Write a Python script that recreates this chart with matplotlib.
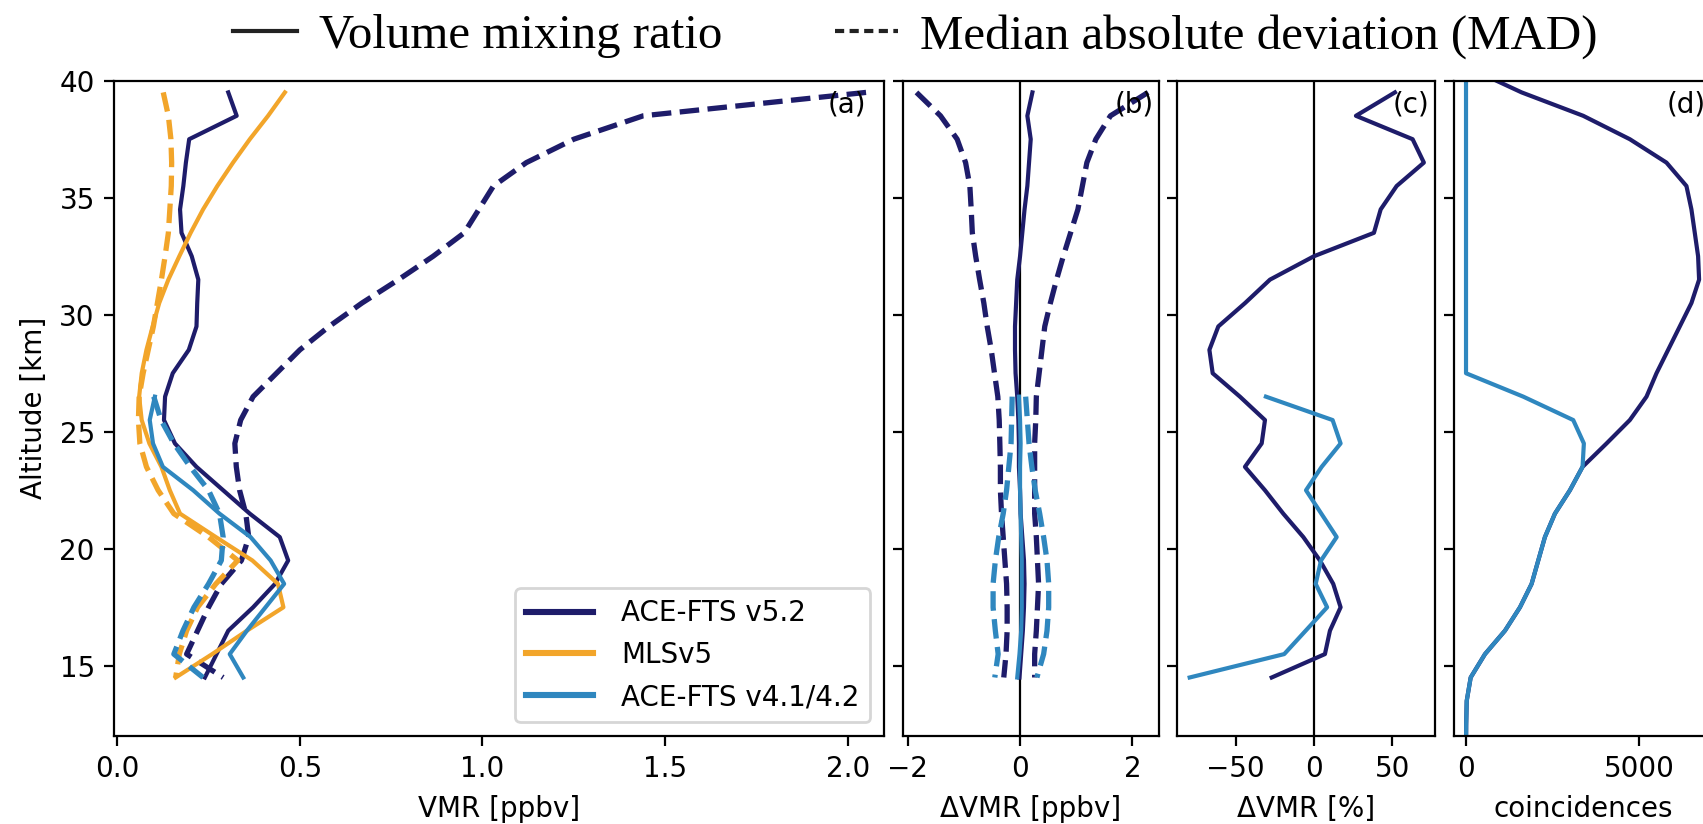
import numpy as np
import matplotlib
matplotlib.use("Agg")
import matplotlib.pyplot as plt
from matplotlib.lines import Line2D

# ---------------- data ----------------
# altitude grid of the ACE-FTS v5.2 / MLS comparison (km)
alt = [39.5, 38.5, 37.5, 36.5, 35.5, 34.5, 33.5, 32.5, 31.5, 30.5, 29.5, 28.5, 27.5,
       26.5, 25.5, 24.5, 23.5, 22.5, 21.5, 20.5, 19.5, 18.5, 17.5, 16.5, 15.5, 14.5]
# altitude grid of the ACE-FTS v4.1/4.2 comparison (km)
alt_v4 = [26.5, 25.5, 24.5, 23.5, 22.5, 21.5, 20.5, 19.5, 18.5, 17.5, 16.5, 15.5, 14.5]
# altitude grid of the coincidence counts (km)
alt_n = [40.5, 39.5, 38.5, 37.5, 36.5, 35.5, 34.5, 33.5, 32.5, 31.5, 30.5, 29.5, 28.5,
         27.5, 26.5, 25.5, 24.5, 23.5, 22.5, 21.5, 20.5, 19.5, 18.5, 17.5, 16.5, 15.5,
         14.5, 13.5, 12.5, 11.5]

# (a) volume mixing ratios and MAD [ppbv]
ace52_vmr = [0.304, 0.327, 0.197, 0.188, 0.181, 0.172, 0.176, 0.204, 0.222, 0.219, 0.217,
             0.196, 0.152, 0.131, 0.128, 0.158, 0.217, 0.290, 0.363, 0.445, 0.468, 0.432,
             0.372, 0.304, 0.272, 0.240]
ace52_mad = [2.05, 1.44, 1.25, 1.12, 1.03, 0.99, 0.95, 0.865, 0.77, 0.67, 0.58, 0.50, 0.436,
             0.372, 0.338, 0.322, 0.326, 0.335, 0.352, 0.36, 0.34, 0.285, 0.25, 0.22, 0.19, 0.29]
mls_vmr = [0.459, 0.413, 0.363, 0.317, 0.274, 0.235, 0.201, 0.170, 0.140, 0.115, 0.097,
           0.080, 0.067, 0.060, 0.067, 0.088, 0.121, 0.144, 0.172, 0.27, 0.37, 0.44, 0.455,
           0.355, 0.26, 0.16]
mls_mad = [0.126, 0.140, 0.147, 0.149, 0.148, 0.144, 0.140, 0.131, 0.121, 0.110, 0.099,
           0.085, 0.071, 0.060, 0.058, 0.062, 0.080, 0.112, 0.155, 0.25, 0.33, 0.27, 0.22,
           0.19, 0.17, 0.16]
ace4_vmr = [0.103, 0.089, 0.098, 0.125, 0.208, 0.28, 0.365, 0.42, 0.457, 0.406, 0.355,
            0.308, 0.345]
ace4_mad = [0.10, 0.12, 0.155, 0.20, 0.25, 0.28, 0.29, 0.285, 0.25, 0.21, 0.18, 0.155, 0.235]

# (b) absolute differences [ppbv] with MAD envelopes
d52 = [0.22, 0.13, 0.19, 0.16, 0.13, 0.08, 0.04, 0.0, -0.05, -0.07, -0.09, -0.09, -0.08,
       -0.05, -0.03, -0.02, -0.02, 0.0, 0.01, 0.04, 0.07, 0.08, 0.07, 0.05, 0.02, -0.01]
d52_lo = [-1.845, -1.417, -1.12, -0.97, -0.894, -0.87, -0.85, -0.79, -0.72, -0.645, -0.585,
          -0.513, -0.455, -0.396, -0.371, -0.36, -0.35, -0.35, -0.33, -0.30, -0.27, -0.24,
          -0.23, -0.23, -0.25, -0.29]
d52_hi = [2.28, 1.61, 1.35, 1.19, 1.11, 1.03, 0.90, 0.77, 0.65, 0.54, 0.44, 0.39, 0.34,
          0.29, 0.28, 0.26, 0.26, 0.26, 0.26, 0.29, 0.31, 0.33, 0.31, 0.29, 0.26, 0.26]
d4 = [-0.02, 0.0, 0.01, 0.0, 0.0, 0.01, 0.02, 0.03, 0.03, 0.03, 0.02, -0.01, -0.05]
d4_lo = [-0.14, -0.15, -0.16, -0.20, -0.24, -0.30, -0.38, -0.44, -0.48, -0.48, -0.44, -0.39, -0.45]
d4_hi = [0.10, 0.13, 0.16, 0.21, 0.27, 0.35, 0.42, 0.48, 0.51, 0.51, 0.48, 0.42, 0.30]

# (c) relative differences [%]
p52 = [51.7, 26.8, 63.0, 70.2, 52.8, 42.6, 38.3, 0.0, -28.1, -44.0, -61.1, -66.8, -64.7,
       -47.3, -31.3, -33.4, -44.1, -31.3, -19.6, -6.8, 3.8, 12.3, 17.0, 10.2, 7.0, -27.0]
p4 = [-30.7, 11.9, 17.0, 4.9, -5.1, 4.7, 14.5, 4.5, 1.1, 8.4, -5.3, -19.0, -79.4]

# (d) number of coincidences
n52 = [150, 1609, 3391, 4740, 5800, 6378, 6522, 6619, 6715, 6744, 6522, 6185, 5848, 5511,
       5222, 4740, 4066, 3372, 3006, 2572, 2283, 2090, 1898, 1561, 1127, 549, 135, 20, 5, 0]
n4 = [0, 0, 0, 0, 0, 0, 0, 0, 0, 0, 0, 0, 0, 0,
      1657, 3102, 3410, 3372, 3006, 2572, 2283, 2090, 1898, 1561, 1127, 549, 135, 20, 5, 0]

legend_labels = ["ACE-FTS v5.2", "MLSv5", "ACE-FTS v4.1/4.2"]
panel_tags = ["(a)", "(b)", "(c)", "(d)"]

# ---------------- style ----------------
C_ACE52 = "#1e1c6a"
C_MLS = "#f2a52a"
C_ACE4 = "#2f87bf"
LW = 1.5
LW_D = 1.9

plt.rcParams["font.family"] = ["DejaVu Sans"]
plt.rcParams["font.size"] = 10

W, H = 1703, 824
fig = plt.figure(figsize=(W / 200, H / 200), dpi=200)

bottom = 88 / H
height = 655.3 / H
ax_a = fig.add_axes([114.3 / W, bottom, 770 / W, height])
ax_b = fig.add_axes([902.7 / W, bottom, 256.6 / W, height])
ax_c = fig.add_axes([1177.3 / W, bottom, 257.7 / W, height])
ax_d = fig.add_axes([1454.3 / W, bottom, 257 / W, height])

# (a) profiles
ax_a.plot(ace52_vmr, alt, color=C_ACE52, lw=LW)
ax_a.plot(ace52_mad, alt, color=C_ACE52, lw=LW_D, ls="--")
ax_a.plot(mls_vmr, alt, color=C_MLS, lw=LW)
ax_a.plot(mls_mad, alt, color=C_MLS, lw=LW_D, ls="--")
ax_a.plot(ace4_vmr, alt_v4, color=C_ACE4, lw=LW)
ax_a.plot(ace4_mad, alt_v4, color=C_ACE4, lw=LW_D, ls="--")
ax_a.set_xlim(-0.008, 2.10)
ax_a.set_xticks([0.0, 0.5, 1.0, 1.5, 2.0])
ax_a.set_xlabel("VMR [ppbv]")
ax_a.set_ylabel("Altitude [km]")
handles = [Line2D([], [], color=c, lw=2.2) for c in (C_ACE52, C_MLS, C_ACE4)]
ax_a.legend(handles, legend_labels, loc="lower right", handlelength=2.4,
            handletextpad=1.0)

# (b) absolute differences
ax_b.axvline(0, color="k", lw=0.8)
ax_b.plot(d52, alt, color=C_ACE52, lw=LW)
ax_b.plot(d52_lo, alt, color=C_ACE52, lw=LW_D, ls="--")
ax_b.plot(d52_hi, alt, color=C_ACE52, lw=LW_D, ls="--")
ax_b.plot(d4, alt_v4, color=C_ACE4, lw=LW)
ax_b.plot(d4_lo, alt_v4, color=C_ACE4, lw=LW_D, ls="--")
ax_b.plot(d4_hi, alt_v4, color=C_ACE4, lw=LW_D, ls="--")
ax_b.set_xlim(-2.09, 2.48)
ax_b.set_xticks([-2, 0, 2])
ax_b.set_xlabel("\u0394VMR [ppbv]")

# (c) relative differences
ax_c.axvline(0, color="k", lw=0.8)
ax_c.plot(p52, alt, color=C_ACE52, lw=LW)
ax_c.plot(p4, alt_v4, color=C_ACE4, lw=LW)
ax_c.set_xlim(-87.3, 77.3)
ax_c.set_xticks([-50, 0, 50])
ax_c.set_xlabel("\u0394VMR [%]")

# (d) coincidences
ax_d.plot(n52, alt_n, color=C_ACE52, lw=LW)
ax_d.plot(n4, alt_n, color=C_ACE4, lw=LW)
ax_d.set_xlim(-339, 7097)
ax_d.set_xticks([0, 5000])
ax_d.set_xlabel("coincidences")

for i, ax in enumerate((ax_a, ax_b, ax_c, ax_d)):
    ax.set_ylim(12, 40)
    ax.set_yticks([15, 20, 25, 30, 35, 40])
    if i > 0:
        ax.tick_params(labelleft=False)
    ax.text(0.977, 0.985, panel_tags[i], transform=ax.transAxes,
            ha="right", va="top", fontsize=10)

# line-style key above the panels
key_handles = [Line2D([], [], color="#222222", lw=1.5),
               Line2D([], [], color="#222222", lw=1.5, ls=(0, (2.2, 1.3)))]
fig.legend(key_handles, ["Volume mixing ratio", "Median absolute deviation (MAD)"],
           loc="center", bbox_to_anchor=(0.5375, 0.956), ncol=2, frameon=False,
           prop={"family": "Liberation Serif", "size": 17.6},
           handlelength=1.3, handletextpad=0.45, columnspacing=2.3)

fig.savefig("out.png", dpi=200)
